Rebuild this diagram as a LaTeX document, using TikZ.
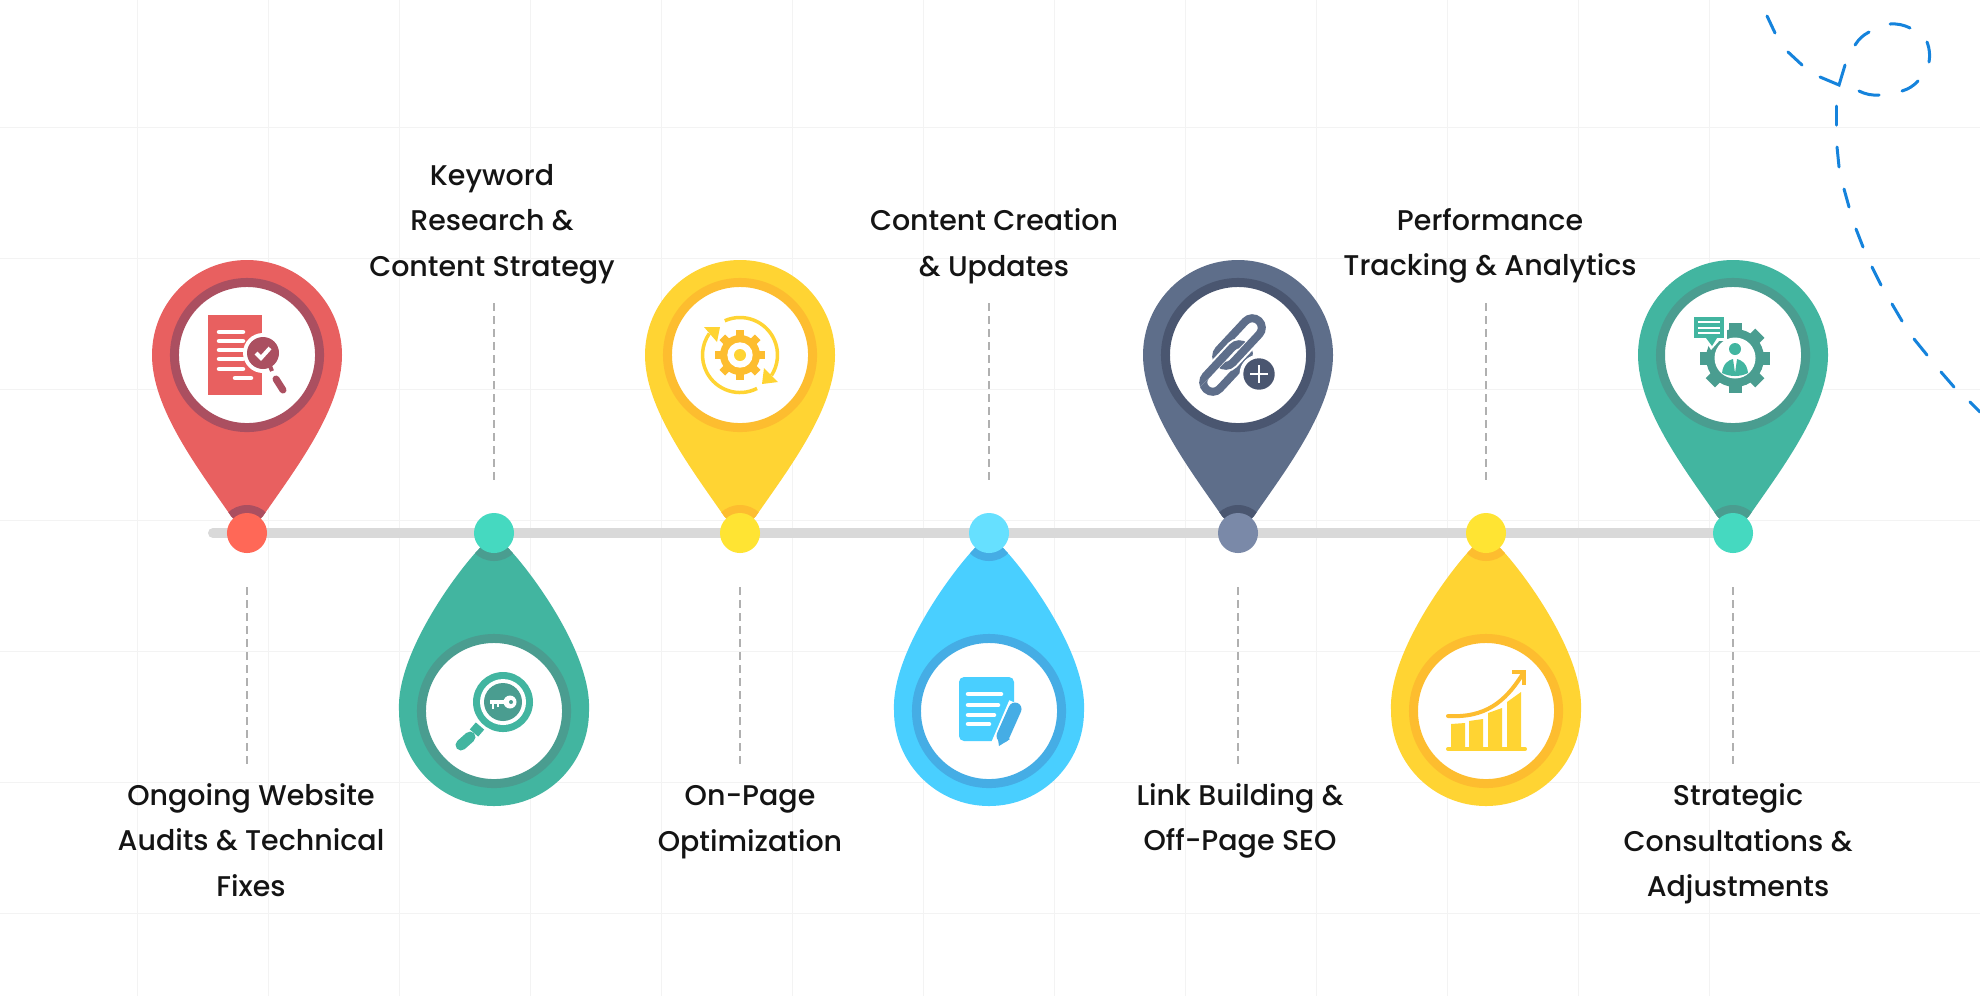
\documentclass[tikz,border=0pt]{standalone}
\usepackage{fontspec}
\setmainfont{Poppins}[UprightFont={* Medium}]
\definecolor{gridcol}{HTML}{F3F3F3}
\definecolor{trackcol}{HTML}{D9D9D9}
\definecolor{stemcol}{HTML}{B0B0B0}
\definecolor{loopcol}{HTML}{1583DC}
\definecolor{redpin}{HTML}{E86060}
\definecolor{redring}{HTML}{AB4F60}
\definecolor{reddot}{HTML}{FF6857}
\definecolor{tealpin}{HTML}{42B5A0}
\definecolor{tealring}{HTML}{4A9D90}
\definecolor{tealdot}{HTML}{45D9C0}
\definecolor{sunpin}{HTML}{FFD433}
\definecolor{sunring}{HTML}{FDBD2F}
\definecolor{sundot}{HTML}{FFE433}
\definecolor{skypin}{HTML}{49CFFF}
\definecolor{skyring}{HTML}{45ADE5}
\definecolor{skydot}{HTML}{66E0FF}
\definecolor{slatepin}{HTML}{5E6E8A}
\definecolor{slatering}{HTML}{4A5670}
\definecolor{slatedot}{HTML}{7A89A8}
\tikzset{
  gridline/.style={gridcol,line width=0.1mm},
  trackline/.style={trackcol,line width=1mm,line cap=round},
  stemline/.style={stemcol,line width=0.2mm,dash pattern=on 0.75mm off 0.55mm},
  loopline/.style={loopcol,line width=0.3mm,line cap=round,line join=miter},
  dotnode/.style={circle,minimum size=4mm,inner sep=0pt,outer sep=0pt},
  facenode/.style={circle,fill=white,line width=0.9mm,minimum size=14.5mm,inner sep=0pt,outer sep=0pt},
  labelnode/.style={align=center,text=black!92,font=\fontsize{8.1}{12.95}\selectfont},
  rowline/.style={white,line width=0.45mm,line cap=round}
}
\newcommand{\pinoutline}{(0,0) -- (-16,-17) .. controls (\pinax,\pinay) and (\pinbx,\pinby) .. (-95,-178) arc[start angle=180,end angle=360,radius=95] .. controls (-\pinbx,\pinby) and (-\pinax,\pinay) .. (16,-17) -- cycle}
\newcommand{\linkoutline}{(19.5,-9.5) arc[start angle=-90,end angle=90,radius=9.5] -- (-19.5,9.5) arc[start angle=90,end angle=270,radius=9.5] -- cycle}
% #1 name, #2 x, #3 side, #4 pin, #5 ring, #6 dot
\newcommand{\mappin}[6]{
  \ifnum#3=1 \def\pinax{-50}\def\pinay{-66}\def\pinbx{-95}\def\pinby{-125}
  \else \def\pinax{-36}\def\pinay{-38}\def\pinbx{-98}\def\pinby{-120}\fi
  \begin{scope}[shift={(#2,533)},yscale=#3]
    \fill[#4] \pinoutline;
    \begin{scope}
      \clip \pinoutline;
      \fill[#5] (0,0) circle[radius=28];
    \end{scope}
    \node[facenode,draw=#5] (#1-face) at (0,-178) {};
    \node[dotnode,fill=#6] (#1) at (0,0) {};
  \end{scope}
}
\begin{document}
\begin{tikzpicture}[x=0.01cm,y=-0.01cm]
  \useasboundingbox (0,0) rectangle (1980,996);
  \fill[white] (0,0) rectangle (1980,996);
  \foreach \gx in {137,268,...,1839}
    \draw[gridline] (\gx,0) -- (\gx,996);
  \foreach \gy in {127,258,...,913}
    \draw[gridline] (0,\gy) -- (1980,\gy);

  % the dashed trail in the corner
  \foreach \xa/\ya/\xb/\yb in {1767/16/1775/33,1788/52/1802/65,1836/106/1836/125,1837/147/1839/167,
      1844/189/1849/207,1856/229/1863/247,1872/267/1881/285,1892/304/1902/321,1914/339/1927/355,
      1941/372/1954/387,1970/402/1980/412}
    \draw[loopline] (\xa,\ya) -- (\xb,\yb);
  \foreach \xa/\ya/\xb/\yb in {1855/45/1869/32,1890/24/1910/28,1927/42/1929/62,1918/81/1902/91,1879/95/1859/91}
    \draw[loopline] (\xa,\ya) to[bend left=14] (\xb,\yb);
  \draw[loopline] (1820,77) -- (1839,85) -- (1845,65);

  % timeline
  \coordinate (trackstart) at (213,533);
  \coordinate (trackend) at (1733,533);
  \draw[trackline] (trackstart) -- (trackend);

  \mappin{audits}{247}{1}{redpin}{redring}{reddot}
  \mappin{keyword}{494}{-1}{tealpin}{tealring}{tealdot}
  \mappin{onpage}{740}{1}{sunpin}{sunring}{sundot}
  \mappin{content}{989}{-1}{skypin}{skyring}{skydot}
  \mappin{links}{1238}{1}{slatepin}{slatering}{slatedot}
  \mappin{tracking}{1486}{-1}{sunpin}{sunring}{sundot}
  \mappin{strategy}{1733}{1}{tealpin}{tealring}{tealdot}

  % stems
  \foreach \sx/\sname in {247/a,740/c,1238/e,1733/g}{
    \coordinate (stem\sname1) at (\sx,587);
    \coordinate (stem\sname2) at (\sx,764);
    \draw[stemline] (stem\sname1) -- (stem\sname2);
  }
  \foreach \sx/\sname in {494/b,989/d,1486/f}{
    \coordinate (stem\sname1) at (\sx,303);
    \coordinate (stem\sname2) at (\sx,480);
    \draw[stemline] (stem\sname1) -- (stem\sname2);
  }

  % labels
  \node[labelnode] (auditstext) at (251,840) {Ongoing Website\\Audits \& Technical\\Fixes};
  \node[labelnode] (keywordtext) at (492,224) {Keyword\\Research \&\\Content Strategy};
  \node[labelnode] (onpagetext) at (750,822) {On-Page\\Optimization};
  \node[labelnode] (contenttext) at (994,246) {Content Creation\\\& Updates};
  \node[labelnode] (linkstext) at (1240,821) {Link Building \&\\Off-Page SEO};
  \node[labelnode] (trackingtext) at (1490,246) {Performance\\Tracking \& Analytics};
  \node[labelnode] (strategytext) at (1738,844) {Strategic\\Consultations \&\\Adjustments};

  % icon: page and magnifier
  \fill[redpin] (208,315) rectangle (262,395);
  \foreach \ry in {332,341,350,359,369}
    \draw[rowline] (219,\ry) -- (243,\ry);
  \draw[rowline] (235,378) -- (251,378);
  \fill[white] (263,353) circle[radius=20];
  \fill[redring] (263,353) circle[radius=16];
  \draw[white,line width=0.4mm] (256,353) -- (261,358) -- (270,348);
  \draw[redring,line width=0.4mm] (270,366) -- (272,371);
  \draw[redring,line width=0.7mm,line cap=round] (276,379) -- (283,390);

  % icon: magnifier and key
  \fill[tealpin] (503,702) circle[radius=30];
  \fill[white] (503,702) circle[radius=23];
  \fill[tealring] (503,702) circle[radius=19];
  \fill[white] (510,702) circle[radius=6.5];
  \fill[tealring] (511,702) circle[radius=2];
  \draw[white,line width=0.35mm] (490,702) -- (506,702);
  \draw[white,line width=0.25mm] (493,702) -- (493,709);
  \draw[white,line width=0.25mm] (498,702) -- (498,707);
  \draw[tealpin,line width=1.1mm] (480,726) -- (474,733);
  \draw[tealpin,line width=1.1mm,line cap=round] (470,737) -- (461,745);

  % icon: gear and turning arrows
  \begin{scope}[shift={(740,355)}]
    \foreach \ga in {0,45,...,315}
      \draw[sunring,line width=0.8mm] (\ga:18) -- (\ga:25);
    \fill[sunring] (0,0) circle[radius=20];
    \fill[white] (0,0) circle[radius=12.7];
    \fill[sunpin] (0,0) circle[radius=6];
    \draw[sunpin,line width=0.35mm] (-114:37.5) arc[start angle=-114,end angle=33,radius=37.5];
    \draw[sunpin,line width=0.35mm] (63:37.5) arc[start angle=63,end angle=215,radius=37.5];
  \end{scope}
  \fill[sunpin] (778,382) -- (764,368) -- (762,384) -- cycle;
  \fill[sunpin] (704,327) -- (717,342) -- (720,327) -- cycle;

  % icon: page and pen
  \fill[skypin,rounded corners=0.5mm] (959,677) rectangle (1014,741);
  \foreach \rx/\ry in {1001/694,998/705,994/715,989/724}
    \draw[rowline] (968,\ry) -- (\rx,\ry);
  \draw[white,line width=1.9mm] (1018,704) -- (1000,746);
  \draw[skyring,line width=1.3mm,line cap=round] (1015,709) -- (1003,736);
  \fill[skyring] (997,733) -- (1010,739) -- (999,746) -- cycle;

  % icon: chain and plus
  \begin{scope}[shift={(1226,368)},rotate=47]
    \draw[slatepin,line width=0.8mm] \linkoutline;
  \end{scope}
  \begin{scope}[shift={(1239,342)},rotate=47]
    \draw[white,line width=1.2mm] \linkoutline;
    \draw[slatepin,line width=0.8mm] \linkoutline;
  \end{scope}
  \begin{scope}
    \clip (1182,405) -- (1282,305) -- (1182,305) -- cycle;
    \begin{scope}[shift={(1226,368)},rotate=47]
      \draw[white,line width=1.2mm] \linkoutline;
      \draw[slatepin,line width=0.8mm] \linkoutline;
    \end{scope}
  \end{scope}
  \fill[white] (1259,374) circle[radius=19.5];
  \fill[slatering] (1259,374) circle[radius=15.7];
  \draw[white,line width=0.2mm] (1250,374) -- (1268,374);
  \draw[white,line width=0.2mm] (1259,365) -- (1259,383);

  % icon: bars and rising arrow
  \fill[sunpin] (1451,724) -- (1465,723) -- (1465,748) -- (1451,748) -- cycle;
  \fill[sunpin] (1469,721) -- (1483,719) -- (1483,748) -- (1469,748) -- cycle;
  \fill[sunpin] (1488,713) -- (1502,708) -- (1502,748) -- (1488,748) -- cycle;
  \fill[sunpin] (1507,702) -- (1521,692) -- (1521,748) -- (1507,748) -- cycle;
  \draw[sunpin,line width=0.4mm,line cap=round] (1448,749) -- (1525,749);
  \draw[sunring,line width=0.4mm,line cap=round] (1448,716) .. controls (1485,718) and (1505,702) .. (1522,675);
  \draw[sunring,line width=0.45mm] (1512,672) -- (1524,672) -- (1524,685);

  % icon: gear, person and speech bubble
  \begin{scope}[shift={(1735,358)}]
    \foreach \ga in {0,45,...,315}
      \draw[tealring,line width=1.3mm] (\ga:25) -- (\ga:35);
    \fill[tealring] (0,0) circle[radius=29];
    \fill[white] (0,0) circle[radius=20.5];
    \fill[tealpin] (0,-9) circle[radius=6];
    \fill[tealpin] (-13,15) .. controls (-12,5) and (-6,2) .. (-2,1) -- (0,15) -- (2,1) .. controls (6,2) and (12,5) .. (13,15) .. controls (5,19) and (-5,19) .. cycle;
  \end{scope}
  \fill[white] (1691,314) rectangle (1727,341);
  \fill[white] (1705,340) -- (1711,350) -- (1720,340) -- cycle;
  \fill[tealpin] (1694,317) rectangle (1724,338);
  \fill[tealpin] (1706,338) -- (1712,346) -- (1717,338) -- cycle;
  \foreach \ry in {322,328,333}
    \draw[white,line width=0.15mm] (1698,\ry) -- (1720,\ry);
\end{tikzpicture}
\end{document}
